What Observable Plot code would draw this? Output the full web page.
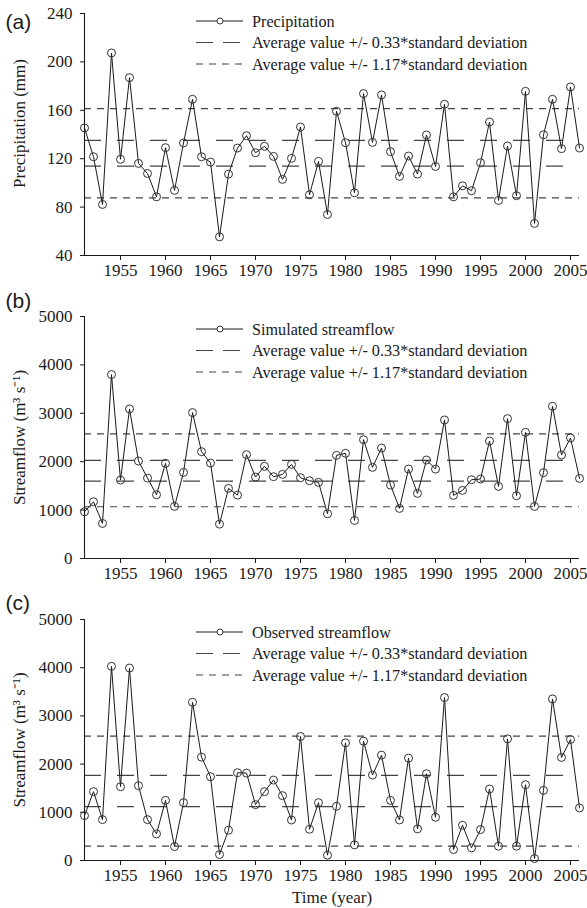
<!DOCTYPE html>
<html><head><meta charset="utf-8">
<script src="https://cdn.jsdelivr.net/npm/d3@7"></script>
<script src="https://cdn.jsdelivr.net/npm/@observablehq/plot@0.6"></script>
<style>
body{margin:0;background:#fff;}
#chart{width:587px;height:908px;position:relative;overflow:hidden;background:#fff;}
#chart svg{display:block;}
</style></head><body><div id="chart"></div>
<script>
const years = [1951,1952,1953,1954,1955,1956,1957,1958,1959,1960,
  1961,1962,1963,1964,1965,1966,1967,1968,1969,1970,
  1971,1972,1973,1974,1975,1976,1977,1978,1979,1980,
  1981,1982,1983,1984,1985,1986,1987,1988,1989,1990,
  1991,1992,1993,1994,1995,1996,1997,1998,1999,2000,
  2001,2002,2003,2004,2005,2006];
const xTicks = [1955,1960,1965,1970,1975,1980,1985,1990,1995,2000,2005];

const precipitation = [145.4,121.6,82.2,207.4,119.5,187,116.1,107.8,88.5,129.1,
  93.8,133,169.1,121.6,117.2,55.4,107.3,128.8,139,124.9,
  130.2,121.9,102.9,120.3,146.2,90.2,117.8,73.9,159.2,133.2,
  91.8,173.8,133.5,172.7,125.8,105.4,122.2,107.3,139.6,113.6,
  165,88.5,97.6,93.5,116.7,150.3,85.5,130.5,89.4,175.7,
  66.5,139.8,169.1,128.3,179.3,128.8];
const simulated = [965,1172,724,3800,1621,3090,2014,1662,1317,1966,
  1076,1779,3014,2207,1972,710,1448,1310,2145,1683,
  1904,1690,1738,1945,1669,1607,1573,924,2131,2173,
  786,2455,1883,2283,1517,1035,1848,1345,2035,1848,
  2862,1304,1407,1628,1641,2428,1490,2890,1297,2607,
  1076,1773,3145,2138,2490,1655];
const observed = [931,1428,848,4028,1531,3993,1552,848,552,1248,
  290,1200,3283,2145,1738,124,628,1821,1814,1159,
  1428,1669,1345,840,2573,648,1200,110,1124,2441,
  324,2476,1773,2186,1248,841,2124,655,1800,897,
  3380,228,731,262,641,1483,297,2524,297,1572,
  41,1455,3352,2138,2510,1090];

// reference lines: mean +/- 0.33 sd (inner) and mean +/- 1.17 sd (outer)
const precipInner = [113.9, 135.2];
const precipOuter = [87.7, 161.4];
const simInner = [1600, 2028];
const simOuter = [1069, 2573];
const obsInner = [1117, 1766];
const obsOuter = [297, 2579];

const precipTicks = [40,80,120,160,200,240];
const flowTicks = [0,1000,2000,3000,4000,5000];

const legendInner = "Average value +/- 0.33*standard deviation";
const legendOuter = "Average value +/- 1.17*standard deviation";

const SERIF = "'Liberation Serif','Times New Roman',serif";
const INK = "#1a1a1a";
const LONG = "17,16";
const SHORT = "7,6";

function panel(o) {
  const data = years.map((y, i) => ({year: y, v: o.values[i]}));
  const plot = Plot.plot({
    width: 587, height: o.height,
    marginLeft: 84, marginRight: 8, marginTop: o.marginTop, marginBottom: o.marginBottom,
    style: {fontFamily: SERIF, fontSize: "17px", color: INK, background: "white", overflow: "visible"},
    x: {domain: [years[0], years[years.length - 1]], axis: null},
    y: {domain: [o.ticks[0], o.ticks[o.ticks.length - 1]], axis: null},
    marks: [
      Plot.ruleY(o.outer, {stroke: "#444", strokeWidth: 1.2, strokeDasharray: SHORT}),
      Plot.ruleY(o.inner, {stroke: "#444", strokeWidth: 1.2, strokeDasharray: LONG}),
      Plot.axisX({ticks: xTicks, tickSize: 5, tickPadding: 3, tickFormat: d => String(d), label: null}),
      Plot.axisY({ticks: o.ticks, tickSize: 4, tickPadding: 8, tickFormat: d => String(d), label: null}),
      Plot.ruleY([o.ticks[0]], {stroke: INK, strokeWidth: 1.1}),
      Plot.ruleX([years[0]], {stroke: INK, strokeWidth: 1.1}),
      Plot.line(data, {x: "year", y: "v", stroke: INK, strokeWidth: 1}),
      Plot.dot(data, {x: "year", y: "v", r: 4, stroke: "#333", strokeWidth: 1, fill: "none"}),
      Plot.text([o.label], {frameAnchor: "top-left", dx: -79, dy: o.labelDy, textAnchor: "start", lineAnchor: "middle",
        fontFamily: "'Liberation Sans',Arial,sans-serif", fontSize: 21, fill: INK}),
      Plot.text([o.ytitle], {frameAnchor: "left", rotate: -90, dx: -65, dy: o.ytitleDy,
        textAnchor: "middle", lineAnchor: "middle", fontSize: 17, fill: INK}),
      ...(o.xtitle ? [Plot.text([o.xtitle], {frameAnchor: "bottom", dy: 37, lineAnchor: "middle", textAnchor: "middle", fontSize: 17, fill: INK})] : [])
    ]
  });
  // legend
  const svg = d3.select(plot);
  const g = svg.append("g").attr("font-family", SERIF).attr("font-size", 16.2)
    .attr("fill", INK).attr("text-anchor", "start");
  const rows = [
    {name: o.legendName, type: "solid"},
    {name: legendInner, type: "long"},
    {name: legendOuter, type: "short"}
  ];
  rows.forEach((r, i) => {
    const y = o.marginTop + o.legendDy + i * 21.5;
    if (r.type === "solid") {
      g.append("line").attr("x1", 196).attr("x2", 243).attr("y1", y).attr("y2", y).attr("stroke", INK);
      g.append("circle").attr("cx", 220).attr("cy", y).attr("r", 3).attr("fill", "white").attr("stroke", "#333");
    } else if (r.type === "long") {
      g.append("line").attr("x1", 196).attr("x2", 243).attr("y1", y).attr("y2", y)
        .attr("stroke", "#444").attr("stroke-width", 1.2).attr("stroke-dasharray", "17,10");
    } else {
      g.append("line").attr("x1", 196).attr("x2", 243).attr("y1", y).attr("y2", y)
        .attr("stroke", "#444").attr("stroke-width", 1.2).attr("stroke-dasharray", "7,6");
    }
    g.append("text").attr("x", 252).attr("y", y).attr("dy", "0.35em").text(r.name);
  });
  return plot;
}

const chart = document.getElementById("chart");
chart.appendChild(panel({values: precipitation, ticks: precipTicks, inner: precipInner, outer: precipOuter,
  label: "(a)", ytitle: "Precipitation (mm)", legendName: "Precipitation",
  height: 285, marginTop: 13, marginBottom: 30, labelDy: 9, ytitleDy: -11, legendDy: 8}));
chart.appendChild(panel({values: simulated, ticks: flowTicks, inner: simInner, outer: simOuter,
  label: "(b)", ytitle: "Streamflow (m\u00B3 s\u207B\u00B9)", legendName: "Simulated streamflow",
  height: 303, marginTop: 31, marginBottom: 30, labelDy: -15, ytitleDy: 0, legendDy: 13}));
chart.appendChild(panel({values: observed, ticks: flowTicks, inner: obsInner, outer: obsOuter,
  label: "(c)", ytitle: "Streamflow (m\u00B3 s\u207B\u00B9)", legendName: "Observed streamflow",
  height: 320, marginTop: 31, marginBottom: 48, labelDy: -16, ytitleDy: 0, legendDy: 13, xtitle: "Time (year)"}));
</script>
</body></html>
